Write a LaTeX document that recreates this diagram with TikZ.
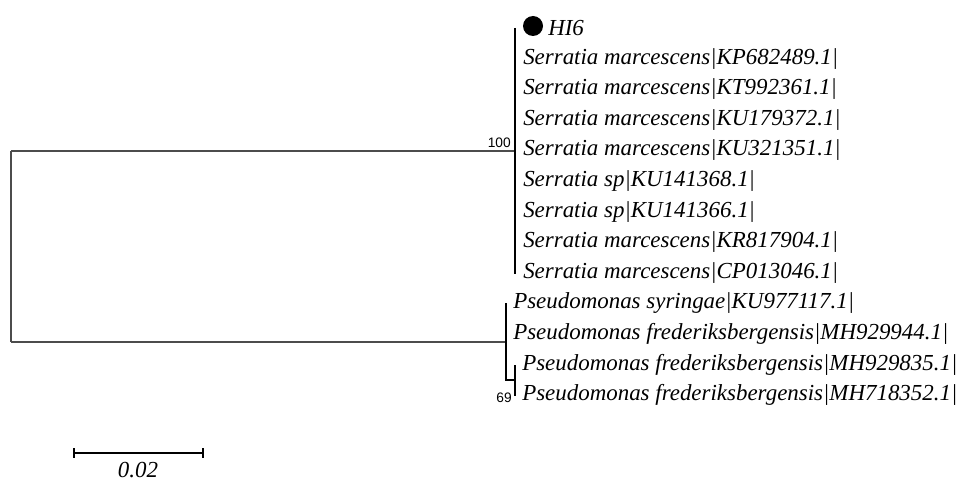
\documentclass[tikz,border=0pt]{standalone}
\usepackage{fontspec}
\setmainfont{Liberation Serif}
\newfontfamily\bsfont{Liberation Sans}
\begin{document}
\begin{tikzpicture}[x=0.75pt,y=-0.75pt,
  branch/.style={line width=1.3pt,color=black!70},
  leaf/.style={anchor=west,inner sep=0pt,font=\fontsize{17.2}{17.2}\selectfont\itshape},
  boot/.style={anchor=south east,inner sep=0pt,font=\bsfont\fontsize{10.3}{10.3}\selectfont}]
\useasboundingbox (0,0) rectangle (961,481);
% internal points
\coordinate (rt) at (11,151);
\coordinate (rb) at (11,342);
\coordinate (sn) at (515,151);
\coordinate (st) at (515,28);
\coordinate (sb) at (515,274);
\coordinate (pn) at (506,342);
\coordinate (pt) at (506,303);
\coordinate (pb) at (506,380);
\coordinate (qn) at (515,380);
\coordinate (qt) at (515,365);
\coordinate (qb) at (515,396);
% leaves
\fill (533,26) circle (10);
\node[leaf] (l0) at (548,28) {HI6};
\node[leaf] (l1) at (523,58.6) {Serratia marcescens|KP682489.1|};
\node[leaf] (l2) at (523,89.2) {Serratia marcescens|KT992361.1|};
\node[leaf] (l3) at (523,119.8) {Serratia marcescens|KU179372.1|};
\node[leaf] (l4) at (523,150.4) {Serratia marcescens|KU321351.1|};
\node[leaf] (l5) at (523,181) {Serratia sp|KU141368.1|};
\node[leaf] (l6) at (523,211.6) {Serratia sp|KU141366.1|};
\node[leaf] (l7) at (523,242.2) {Serratia marcescens|KR817904.1|};
\node[leaf] (l8) at (523,272.8) {Serratia marcescens|CP013046.1|};
\node[leaf] (p1) at (513,303.4) {Pseudomonas syringae|KU977117.1|};
\node[leaf] (p2) at (513,334) {Pseudomonas frederiksbergensis|MH929944.1|};
\node[leaf] (p3) at (522,364.6) {Pseudomonas frederiksbergensis|MH929835.1|};
\node[leaf] (p4) at (522,395.2) {Pseudomonas frederiksbergensis|MH718352.1|};
% branches
\draw[branch] (rt) -- (rb);
\draw[branch] (rt) -- (sn);
\draw[branch,black] (st) -- (sb);
\draw[branch] (rb) -- (pn);
\draw[branch,black,line width=1pt] (pt) -- (pb) -- (qn);
\draw[branch,black,line width=1pt] (qt) -- (qb);
% bootstrap
\node[boot] (b100) at (511,148) {100};
\node[boot,anchor=east] (b69) at (512,398) {69};
% scale bar
\coordinate (s1) at (74,453);
\coordinate (s2) at (203,453);
\coordinate (s1a) at (74,448);
\coordinate (s1b) at (74,458);
\coordinate (s2a) at (203,448);
\coordinate (s2b) at (203,458);
\draw[line width=1pt] (s1) -- (s2);
\draw[line width=1pt] (s1a) -- (s1b);
\draw[line width=1pt] (s2a) -- (s2b);
\node[leaf,anchor=center] (sl) at (138,470) {0.02};
\end{tikzpicture}
\end{document}
